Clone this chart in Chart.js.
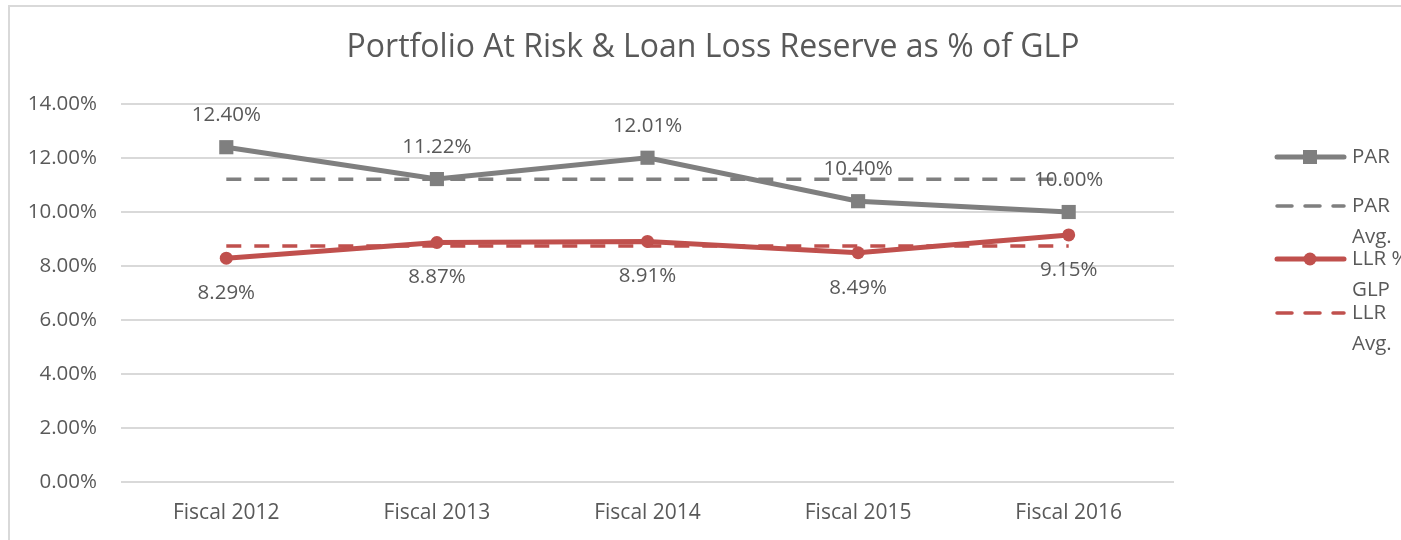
<!DOCTYPE html>
<html>
<head>
<meta charset="utf-8">
<script src="https://cdn.jsdelivr.net/npm/chart.js@4.4.1/dist/chart.umd.min.js"></script>
<style>
  html, body { margin: 0; padding: 0; background: #fff; overflow: hidden; }
  #wrap { width: 1401px; height: 540px; position: relative; }
  canvas { display: block; }
</style>
</head>
<body>
<div id="wrap"><canvas id="chart" width="1401" height="540"></canvas></div>
<script>
const categories = ['Fiscal 2012', 'Fiscal 2013', 'Fiscal 2014', 'Fiscal 2015', 'Fiscal 2016'];
const parValues = [12.40, 11.22, 12.01, 10.40, 10.00];
const parAvg = [11.21, 11.21, 11.21, 11.21, 11.21];
const llrValues = [8.29, 8.87, 8.91, 8.49, 9.15];
const llrAvg = [8.74, 8.74, 8.74, 8.74, 8.74];
const yTicks = [0, 2, 4, 6, 8, 10, 12, 14];

const FONT = '"Open Sans", "Noto Sans", sans-serif';
const TEXT = '#595959';
const GRAY = '#7F7F7F';
const RED = '#C0504D';

// frame, title, value labels and the wrapped legend on the right
const decor = {
    id: 'decor',
    beforeDraw(chart) {
        const ctx = chart.ctx;
        ctx.save();
        ctx.strokeStyle = '#D9D9D9';
        ctx.lineWidth = 2;
        ctx.beginPath();
        ctx.moveTo(9, 540);
        ctx.lineTo(9, 6);
        ctx.lineTo(1401, 6);
        ctx.stroke();
        ctx.restore();
    },
    afterDraw(chart) {
        const ctx = chart.ctx;
        ctx.save();
        ctx.fillStyle = TEXT;
        ctx.textAlign = 'center';
        ctx.textBaseline = 'middle';
        ctx.font = '32px ' + FONT;
        ctx.fillText('Portfolio At Risk & Loan Loss Reserve as % of GLP', 713, 48);

        // value labels
        ctx.font = '20.5px ' + FONT;
        const fmt = v => v.toFixed(2) + '%';
        chart.getDatasetMeta(0).data.forEach((pt, i) => {
            ctx.fillText(fmt(parValues[i]), pt.x, pt.y - 32);
        });
        chart.getDatasetMeta(2).data.forEach((pt, i) => {
            ctx.fillText(fmt(llrValues[i]), pt.x, pt.y + 35);
        });

        // legend
        const rows = [157, 206, 259, 313];
        ctx.textAlign = 'left';
        chart.data.datasets.forEach((ds, i) => {
            const y = rows[i];
            ctx.save();
            ctx.strokeStyle = ds.borderColor;
            ctx.lineWidth = ds.borderWidth;
            ctx.lineCap = 'round';
            ctx.setLineDash(ds.borderDash || []);
            ctx.beginPath();
            ctx.moveTo(1277, y);
            ctx.lineTo(1344, y);
            ctx.stroke();
            ctx.restore();
            if (ds.pointRadius > 0) {
                ctx.fillStyle = ds.borderColor;
                if (ds.pointStyle === 'rect') {
                    ctx.fillRect(1303, y - 7, 14, 14);
                } else {
                    ctx.beginPath();
                    ctx.arc(1310, y, 6.5, 0, Math.PI * 2);
                    ctx.fill();
                }
            }
            ctx.fillStyle = TEXT;
            const words = ds.label.split(' ');
            const lines = [];
            let cur = '';
            words.forEach(w => {
                const t = cur ? cur + ' ' + w : w;
                if (cur && ctx.measureText(t).width > 60) { lines.push(cur); cur = w; }
                else cur = t;
            });
            lines.push(cur);
            lines.forEach((ln, k) => ctx.fillText(ln, 1352, y + k * 31));
        });
        ctx.restore();
    }
};

new Chart(document.getElementById('chart'), {
    type: 'line',
    data: {
        labels: categories,
        datasets: [
            {
                label: 'PAR',
                data: parValues,
                borderColor: GRAY,
                backgroundColor: GRAY,
                borderWidth: 5,
                pointStyle: 'rect',
                pointRadius: 10,
                pointBorderWidth: 0,
                pointHoverRadius: 10,
                order: 1
            },
            {
                label: 'PAR Avg.',
                data: parAvg,
                borderColor: GRAY,
                borderWidth: 3.5,
                borderDash: [15, 13],
                pointRadius: 0,
                order: 2
            },
            {
                label: 'LLR % GLP',
                data: llrValues,
                borderColor: RED,
                backgroundColor: RED,
                borderWidth: 5,
                pointStyle: 'circle',
                pointRadius: 6.5,
                pointBorderWidth: 0,
                pointHoverRadius: 6.5,
                order: 3
            },
            {
                label: 'LLR Avg.',
                data: llrAvg,
                borderColor: RED,
                borderWidth: 3.5,
                borderDash: [15, 13],
                pointRadius: 0,
                order: 4
            }
        ]
    },
    options: {
        responsive: false,
        animation: false,
        layout: { padding: { top: 104, right: 227, bottom: 0, left: 0 } },
        plugins: {
            legend: { display: false },
            title: { display: false },
            tooltip: { enabled: false }
        },
        scales: {
            x: {
                offset: true,
                grid: { display: false, drawTicks: false },
                border: { display: false },
                ticks: { color: TEXT, font: { family: FONT, size: 21 }, padding: 18 },
                afterFit(scale) { scale.height = 58; }
            },
            y: {
                min: 0,
                max: 14,
                afterBuildTicks(scale) { scale.ticks = yTicks.map(v => ({ value: v })); },
                grid: { color: '#D9D9D9', lineWidth: 2, drawTicks: false },
                border: { display: false },
                ticks: {
                    color: TEXT,
                    font: { family: FONT, size: 20.5 },
                    padding: 24,
                    callback: v => v.toFixed(2) + '%'
                },
                afterFit(scale) { scale.width = 121; }
            }
        }
    },
    plugins: [decor]
});
</script>
</body>
</html>
